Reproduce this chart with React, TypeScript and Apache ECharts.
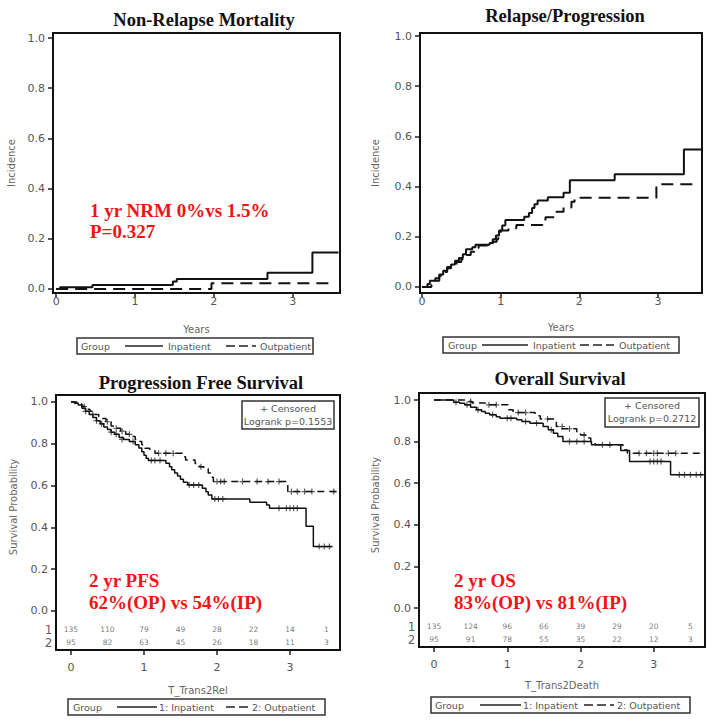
import React, { useEffect, useRef } from 'react';
import * as echarts from 'echarts';

// ---------- data ----------
const X_TICKS = [0, 1, 2, 3];
const Y_TICKS = [0, 0.2, 0.4, 0.6, 0.8, 1.0];

// Non-relapse mortality (cumulative incidence)
const NRM_IN = [[0, 0], [0.05, 0.007], [0.46, 0.016], [1.48, 0.03], [1.53, 0.04], [2.68, 0.065], [3.25, 0.145], [3.58, 0.145]];
const NRM_OUT = [[0, 0], [1.97, 0.023], [3.5, 0.023]];

// Relapse / progression
const REL_IN = [[0, 0], [0.07, 0.012], [0.1, 0.025], [0.17, 0.035], [0.22, 0.05], [0.27, 0.065], [0.32, 0.08], [0.37, 0.09], [0.42, 0.105], [0.47, 0.115], [0.52, 0.13], [0.56, 0.15], [0.64, 0.158], [0.68, 0.168], [0.86, 0.175], [0.9, 0.19], [0.94, 0.205], [0.98, 0.225], [1.02, 0.245], [1.06, 0.267], [1.3, 0.28], [1.36, 0.295], [1.4, 0.315], [1.43, 0.33], [1.47, 0.345], [1.6, 0.358], [1.8, 0.375], [1.88, 0.425], [2.45, 0.449], [3.33, 0.548], [3.55, 0.548]];
const REL_OUT = [[0, 0], [0.12, 0.01], [0.17, 0.025], [0.22, 0.045], [0.27, 0.06], [0.32, 0.075], [0.37, 0.085], [0.44, 0.1], [0.5, 0.11], [0.57, 0.127], [0.62, 0.14], [0.67, 0.155], [0.72, 0.165], [0.9, 0.18], [0.95, 0.19], [0.97, 0.2], [1.0, 0.225], [1.1, 0.234], [1.2, 0.247], [1.53, 0.262], [1.57, 0.278], [1.69, 0.3], [1.8, 0.317], [1.9, 0.34], [1.94, 0.356], [2.98, 0.409], [3.52, 0.409]];

// Progression free survival
const PFS_IN = [[0, 1], [0.05, 0.993], [0.1, 0.985], [0.15, 0.97], [0.2, 0.955], [0.25, 0.94], [0.3, 0.925], [0.35, 0.91], [0.4, 0.895], [0.45, 0.88], [0.5, 0.868], [0.55, 0.855], [0.6, 0.845], [0.66, 0.83], [0.72, 0.82], [0.8, 0.81], [0.88, 0.795], [0.93, 0.78], [0.97, 0.762], [1.0, 0.745], [1.03, 0.73], [1.06, 0.72], [1.3, 0.706], [1.35, 0.69], [1.38, 0.675], [1.42, 0.66], [1.46, 0.645], [1.5, 0.63], [1.54, 0.616], [1.6, 0.603], [1.8, 0.587], [1.85, 0.57], [1.88, 0.555], [1.93, 0.536], [2.45, 0.52], [2.68, 0.507], [2.72, 0.491], [3.22, 0.405], [3.32, 0.308], [3.58, 0.308]];
const PFS_OUT = [[0, 1], [0.08, 0.99], [0.15, 0.978], [0.2, 0.965], [0.26, 0.955], [0.32, 0.94], [0.38, 0.93], [0.42, 0.92], [0.48, 0.905], [0.55, 0.885], [0.6, 0.874], [0.68, 0.86], [0.75, 0.845], [0.82, 0.835], [0.88, 0.82], [0.92, 0.81], [0.97, 0.795], [1.01, 0.778], [1.08, 0.768], [1.15, 0.754], [1.54, 0.738], [1.57, 0.722], [1.7, 0.705], [1.76, 0.69], [1.82, 0.68], [1.88, 0.66], [1.92, 0.64], [1.95, 0.619], [2.97, 0.571], [3.66, 0.571]];
const PFS_IN_CENS = [[0.2, 0.955], [0.35, 0.91], [0.42, 0.895], [0.55, 0.855], [0.62, 0.845], [0.7, 0.82], [0.85, 0.81], [1.1, 0.72], [1.15, 0.72], [1.22, 0.72], [1.62, 0.603], [1.68, 0.603], [1.75, 0.603], [1.97, 0.536], [2.02, 0.536], [2.08, 0.536], [2.85, 0.491], [2.95, 0.491], [3.0, 0.491], [3.05, 0.491], [3.1, 0.491], [3.4, 0.308], [3.47, 0.308], [3.54, 0.308]];
const PFS_OUT_CENS = [[0.18, 0.978], [0.3, 0.94], [0.5, 0.905], [0.62, 0.874], [0.7, 0.86], [0.8, 0.845], [1.2, 0.754], [1.3, 0.754], [1.4, 0.754], [1.78, 0.69], [2.0, 0.619], [2.05, 0.619], [2.1, 0.619], [2.35, 0.619], [2.55, 0.619], [2.7, 0.619], [2.85, 0.619], [3.02, 0.571], [3.1, 0.571], [3.2, 0.571], [3.3, 0.571], [3.6, 0.571]];

// Overall survival
const OS_IN = [[0, 1], [0.27, 0.99], [0.35, 0.985], [0.42, 0.977], [0.5, 0.965], [0.58, 0.953], [0.65, 0.945], [0.7, 0.937], [0.76, 0.929], [0.85, 0.92], [0.9, 0.913], [1.13, 0.905], [1.2, 0.897], [1.31, 0.889], [1.49, 0.873], [1.56, 0.857], [1.63, 0.841], [1.69, 0.825], [1.76, 0.801], [2.15, 0.785], [2.55, 0.757], [2.67, 0.705], [3.23, 0.641], [3.68, 0.641]];
const OS_OUT = [[0, 1], [0.45, 0.993], [0.52, 0.986], [0.7, 0.977], [1.01, 0.953], [1.08, 0.94], [1.38, 0.925], [1.45, 0.909], [1.67, 0.873], [1.72, 0.862], [1.95, 0.841], [2.0, 0.832], [2.08, 0.818], [2.14, 0.8], [2.2, 0.785], [2.58, 0.76], [2.64, 0.744], [3.68, 0.744]];
const OS_IN_CENS = [[0.3, 0.99], [0.45, 0.977], [0.6, 0.953], [0.8, 0.929], [1.0, 0.913], [1.05, 0.913], [1.25, 0.897], [1.4, 0.889], [1.6, 0.857], [1.85, 0.801], [1.95, 0.801], [2.05, 0.801], [2.3, 0.785], [2.4, 0.785], [2.95, 0.705], [3.0, 0.705], [3.05, 0.705], [3.1, 0.705], [3.35, 0.641], [3.42, 0.641], [3.5, 0.641], [3.58, 0.641], [3.64, 0.641]];
const OS_OUT_CENS = [[0.5, 0.993], [0.75, 0.977], [0.85, 0.977], [1.15, 0.94], [1.25, 0.94], [1.55, 0.909], [1.75, 0.873], [1.85, 0.862], [2.05, 0.832], [2.8, 0.744], [2.9, 0.744], [3.0, 0.744], [3.05, 0.744], [3.2, 0.744], [3.3, 0.744]];

// Numbers at risk
const RISK_TIMES = [0, 0.5, 1, 1.5, 2, 2.5, 3, 3.5];
const PFS_RISK_IN = [135, 110, 79, 49, 28, 22, 14, 1];
const PFS_RISK_OUT = [95, 82, 63, 45, 26, 18, 11, 3];
const OS_RISK_IN = [135, 124, 96, 66, 39, 29, 20, 5];
const OS_RISK_OUT = [95, 91, 78, 55, 35, 22, 12, 3];
const RISK_ROWS = ['1', '2'];

const TITLES = ['Non-Relapse Mortality', 'Relapse/Progression', 'Progression Free Survival', 'Overall Survival'];
const Y_NAMES = ['Incidence', 'Incidence', 'Survival Probability', 'Survival Probability'];
const X_NAMES = ['Years', 'Years', 'T_Trans2Rel', 'T_Trans2Death'];
const LEGEND_TOP = ['Inpatient', 'Outpatient'];
const LEGEND_BOTTOM = ['1: Inpatient', '2: Outpatient'];
const LOGRANK = ['Logrank p=0.1553', 'Logrank p=0.2712'];
const NOTES = [
  ['1 yr NRM 0%vs 1.5%', 'P=0.327'],
  ['2 yr PFS', '62%(OP) vs 54%(IP)'],
  ['2 yr OS', '83%(OP) vs 81%(IP)'],
];

// ---------- layout ----------
const PANELS = [
  { grid: { left: 53, top: 33, width: 287, height: 260 }, x: [-0.04, 3.6], y: [-0.016, 1.02], xGap: 31, lw: 2, dash: [12, 7], lblMargin: 3 },
  { grid: { left: 420, top: 33, width: 282, height: 260 }, x: [-0.025, 3.56], y: [-0.024, 1.012], xGap: 29, lw: 2, dash: [12, 7], lblMargin: 3 },
  { grid: { left: 56, top: 395, width: 284, height: 255 }, x: [-0.205, 3.685], y: [-0.187, 1.033], xGap: 35, lw: 1.5, dash: [7, 5], lblMargin: 12 },
  { grid: { left: 419, top: 393, width: 286, height: 254 }, x: [-0.205, 3.7], y: [-0.1875, 1.034], xGap: 33, lw: 1.5, dash: [7, 5], lblMargin: 12 },
];
const ROW_Y = [-0.09, -0.153];

const SANS = '"DejaVu Sans", sans-serif';
const SERIF = '"Liberation Serif", "Times New Roman", serif';
const PLUS = 'path://M4,0H6V4H10V6H6V10H4V6H0V4H4Z';

function buildOption() {
  const grid = PANELS.map((p) => ({ ...p.grid, show: true, borderColor: '#111', borderWidth: 2, backgroundColor: '#fff' }));
  const xAxis = PANELS.map((p, i) => ({
    type: 'value', gridIndex: i, min: p.x[0], max: p.x[1],
    name: X_NAMES[i], nameLocation: 'middle', nameGap: p.xGap,
    nameTextStyle: { color: '#666', fontSize: 10, fontFamily: SANS },
    axisLine: { show: true, onZero: false, lineStyle: { color: '#111', width: 2 } },
    axisTick: { show: true, length: 5, customValues: X_TICKS, lineStyle: { color: '#222', width: 1.5 } },
    axisLabel: { customValues: X_TICKS, color: '#555', fontSize: 11, fontFamily: SANS, margin: p.lblMargin },
    splitLine: { show: false },
  }));
  const yAxis = PANELS.map((p, i) => ({
    type: 'value', gridIndex: i, min: p.y[0], max: p.y[1],
    axisLine: { show: true, onZero: false, lineStyle: { color: '#111', width: 2 } },
    axisTick: { show: true, length: 5, customValues: Y_TICKS, lineStyle: { color: '#222', width: 1.5 } },
    axisLabel: { customValues: Y_TICKS, color: '#555', fontSize: 11, fontFamily: SANS, margin: 8, formatter: (v: number) => v.toFixed(1) },
    splitLine: { show: false },
  }));

  const curves = [
    [NRM_IN, NRM_OUT],
    [REL_IN, REL_OUT],
    [PFS_IN, PFS_OUT],
    [OS_IN, OS_OUT],
  ];
  const series: any[] = [];
  curves.forEach((pair, i) => {
    const names = i < 2 ? LEGEND_TOP : LEGEND_BOTTOM;
    const p = PANELS[i];
    series.push({
      type: 'line', name: names[0], xAxisIndex: i, yAxisIndex: i, data: pair[0], step: 'end',
      symbol: 'none', silent: true, lineStyle: { color: '#111', width: p.lw },
    });
    series.push({
      type: 'line', name: names[1], xAxisIndex: i, yAxisIndex: i, data: pair[1], step: 'end',
      symbol: 'none', silent: true, lineStyle: { color: '#111', width: p.lw, type: p.dash },
    });
  });
  const cens = [[PFS_IN_CENS, PFS_OUT_CENS], [OS_IN_CENS, OS_OUT_CENS]];
  cens.forEach((pair, k) => {
    pair.forEach((d, j) => {
      series.push({
        type: 'scatter', name: 'Censored ' + k + j, xAxisIndex: k + 2, yAxisIndex: k + 2, data: d,
        symbol: PLUS, symbolSize: 6, silent: true, itemStyle: { color: '#333' },
      });
    });
  });
  const risks = [[PFS_RISK_IN, PFS_RISK_OUT], [OS_RISK_IN, OS_RISK_OUT]];
  risks.forEach((pair, k) => {
    pair.forEach((vals, j) => {
      series.push({
        type: 'scatter', name: 'Risk ' + k + j, xAxisIndex: k + 2, yAxisIndex: k + 2, clip: false,
        data: vals.map((n, idx) => [RISK_TIMES[idx], ROW_Y[j], n]),
        symbol: 'circle', symbolSize: 1, silent: true, itemStyle: { color: 'rgba(0,0,0,0)' },
        label: { show: true, position: 'inside', formatter: (q: any) => String(q.value[2]), color: '#555', fontSize: 7.5, fontFamily: SANS },
      });
    });
    series.push({
      type: 'scatter', name: 'RiskRows ' + k, xAxisIndex: k + 2, yAxisIndex: k + 2, clip: false,
      data: RISK_ROWS.map((r, j) => [PANELS[k + 2].x[0], ROW_Y[j], r]),
      symbol: 'circle', symbolSize: 1, silent: true, itemStyle: { color: 'rgba(0,0,0,0)' },
      label: { show: true, position: 'left', distance: 3, formatter: (q: any) => String(q.value[2]), color: '#333', fontSize: 12, fontFamily: SANS },
    });
  });

  const txt = (x: number, y: number, text: string, font: string, fill: string, align = 'center', rotation = 0) => ({
    type: 'text', x, y, rotation, silent: true,
    style: { text, font, fill, textAlign: align, textVerticalAlign: 'middle', verticalAlign: 'middle' },
  });

  const graphic: any[] = [];
  // plot frames (drawn on top so all four sides are crisp and dark)
  PANELS.forEach((p) => {
    graphic.push({
      type: 'rect', silent: true, z: 100,
      shape: { x: p.grid.left, y: p.grid.top, width: p.grid.width, height: p.grid.height },
      style: { fill: 'none', stroke: '#111', lineWidth: 2 },
    });
  });
  // titles
  const titlePos = [[204, 20], [565, 16], [201, 383], [560, 379]];
  TITLES.forEach((t, i) => graphic.push(txt(titlePos[i][0], titlePos[i][1], t, 'bold 18.5px ' + SERIF, '#111')));
  // y-axis names
  const yNamePos = [[11, 163], [375, 163], [13, 507], [375, 505]];
  Y_NAMES.forEach((t, i) => graphic.push(txt(yNamePos[i][0], yNamePos[i][1], t, '10px ' + SANS, '#666', 'center', Math.PI / 2)));
  // red notes
  const notePos = [[90, 210, 231], [89, 580, 602], [454, 580, 602]];
  NOTES.forEach((lines, i) => {
    graphic.push(txt(notePos[i][0], notePos[i][1], lines[0], 'bold 19px ' + SERIF, '#f01414', 'left'));
    graphic.push(txt(notePos[i][0], notePos[i][2], lines[1], 'bold 19px ' + SERIF, '#f01414', 'left'));
  });
  // censored boxes
  const cbox = [[242, 401, 92, 28], [605, 398, 94, 29]];
  cbox.forEach((b, i) => {
    graphic.push({ type: 'rect', silent: true, shape: { x: b[0], y: b[1], width: b[2], height: b[3] }, style: { fill: '#fff', stroke: '#333', lineWidth: 1.5 } });
    graphic.push(txt(b[0] + b[2] / 2, b[1] + 7.5, '+ Censored', '9.5px ' + SANS, '#555'));
    graphic.push(txt(b[0] + b[2] / 2, b[1] + 20.5, LOGRANK[i], '9.5px ' + SANS, '#555'));
  });
  // bottom legends
  const legends = [
    { box: [77, 338, 236, 16], group: 81, solid: [125, 163], l1: 168, dash: [226, 256], l2: 260, names: LEGEND_TOP },
    { box: [443, 337, 236, 16], group: 448, solid: [482, 528], l1: 533, dash: [580, 614], l2: 619, names: LEGEND_TOP },
    { box: [68, 699, 257, 16], group: 73, solid: [117, 157], l1: 159, dash: [226, 250], l2: 252, names: LEGEND_BOTTOM },
    { box: [431, 697, 259, 16], group: 435, solid: [480, 521], l1: 523, dash: [584, 614], l2: 617, names: LEGEND_BOTTOM },
  ];
  legends.forEach((L) => {
    const cy = L.box[1] + L.box[3] / 2;
    graphic.push({ type: 'rect', silent: true, shape: { x: L.box[0], y: L.box[1], width: L.box[2], height: L.box[3] }, style: { fill: '#fff', stroke: '#333', lineWidth: 1.5 } });
    graphic.push(txt(L.group, cy, 'Group', '9.5px ' + SANS, '#555', 'left'));
    graphic.push({ type: 'line', silent: true, shape: { x1: L.solid[0], y1: cy, x2: L.solid[1], y2: cy }, style: { stroke: '#222', lineWidth: 1.5 } });
    graphic.push(txt(L.l1, cy, L.names[0], '9.5px ' + SANS, '#555', 'left'));
    graphic.push({ type: 'line', silent: true, shape: { x1: L.dash[0], y1: cy, x2: L.dash[1], y2: cy }, style: { stroke: '#222', lineWidth: 1.5, lineDash: [9, 4] } });
    graphic.push(txt(L.l2, cy, L.names[1], '9.5px ' + SANS, '#555', 'left'));
  });

  return {
    animation: false,
    backgroundColor: '#fff',
    grid, xAxis, yAxis, series, graphic,
  };
}

export default function App() {
  const ref = useRef<HTMLDivElement>(null);
  useEffect(() => {
    const chart = echarts.init(ref.current as HTMLDivElement, null, { renderer: 'svg' });
    chart.setOption(buildOption() as any);
    return () => chart.dispose();
  }, []);
  return <div ref={ref} style={{ position: 'fixed', left: 0, top: 0, width: 714, height: 724, background: '#fff' }} />;
}
